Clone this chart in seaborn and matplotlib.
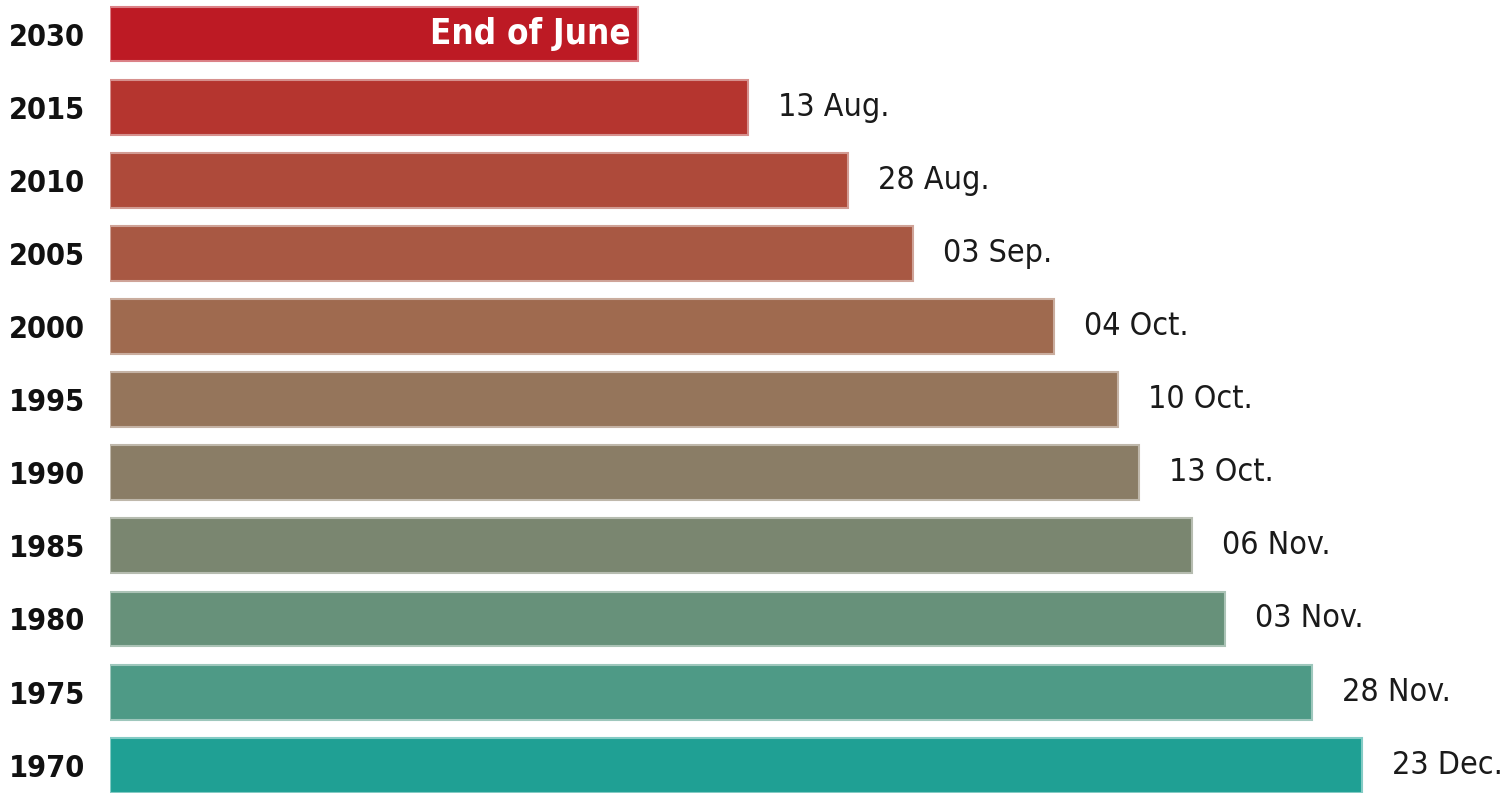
import matplotlib
matplotlib.use("Agg")
import matplotlib.pyplot as plt
import matplotlib.colors as mcolors
import seaborn as sns
import pandas as pd

years = ["2030", "2015", "2010", "2005", "2000", "1995", "1990", "1985", "1980", "1975", "1970"]
# bar lengths as drawn in the picture (the artwork is not to scale with the dates)
bar_lengths = [528, 638, 738, 803, 944, 1008, 1029, 1082, 1115, 1202, 1252]
date_labels = ["End of June", "13 Aug.", "28 Aug.", "03 Sep.", "04 Oct.", "10 Oct.",
               "13 Oct.", "06 Nov.", "03 Nov.", "28 Nov.", "23 Dec."]
bar_colors = ["#bd1a24", "#b5352f", "#ae4a3a", "#a85843", "#9f6a4f", "#95755b",
              "#8a7d66", "#7a8670", "#67917a", "#4e9a86", "#1fa094"]

sns.set_theme(style="white")
plt.rcParams["font.family"] = ["DejaVu Sans Condensed", "DejaVu Sans"]
plt.rcParams["font.stretch"] = "condensed"

df = pd.DataFrame({"year": years, "length": bar_lengths})

fig = plt.figure(figsize=(15.11, 7.93), dpi=100)
ax = fig.add_axes([110 / 1511, 0, 1401 / 1511, 1])

sns.barplot(
    data=df,
    x="length",
    y="year",
    hue="year",
    palette=bar_colors,
    saturation=1,
    orient="h",
    width=0.75,
    legend=False,
    ax=ax,
)

# light outline on each bar
for patch, color in zip(ax.patches, bar_colors):
    rgb = mcolors.to_rgb(color)
    light = tuple(c + (1 - c) * 0.45 for c in rgb)
    patch.set_edgecolor(light)
    patch.set_linewidth(1.5)

ax.set_xlim(0, 1401)
ax.set_ylim(10.38, -0.465)

for i, (length, label) in enumerate(zip(bar_lengths, date_labels)):
    if i == 0:
        ax.text(length - 7, i, label, ha="right", va="center",
                color="white", fontsize=25, fontweight="bold")
    else:
        ax.text(length + 30, i, label, ha="left", va="center",
                color="#1a1a1a", fontsize=23)

ax.set_xlabel("")
ax.set_ylabel("")
ax.set_xticks([])
ax.tick_params(axis="y", length=0, pad=18, labelsize=22)
for lbl in ax.get_yticklabels():
    lbl.set_fontweight("bold")
    lbl.set_color("#111111")
sns.despine(ax=ax, left=True, bottom=True)

fig.savefig("out.png", dpi=100)
